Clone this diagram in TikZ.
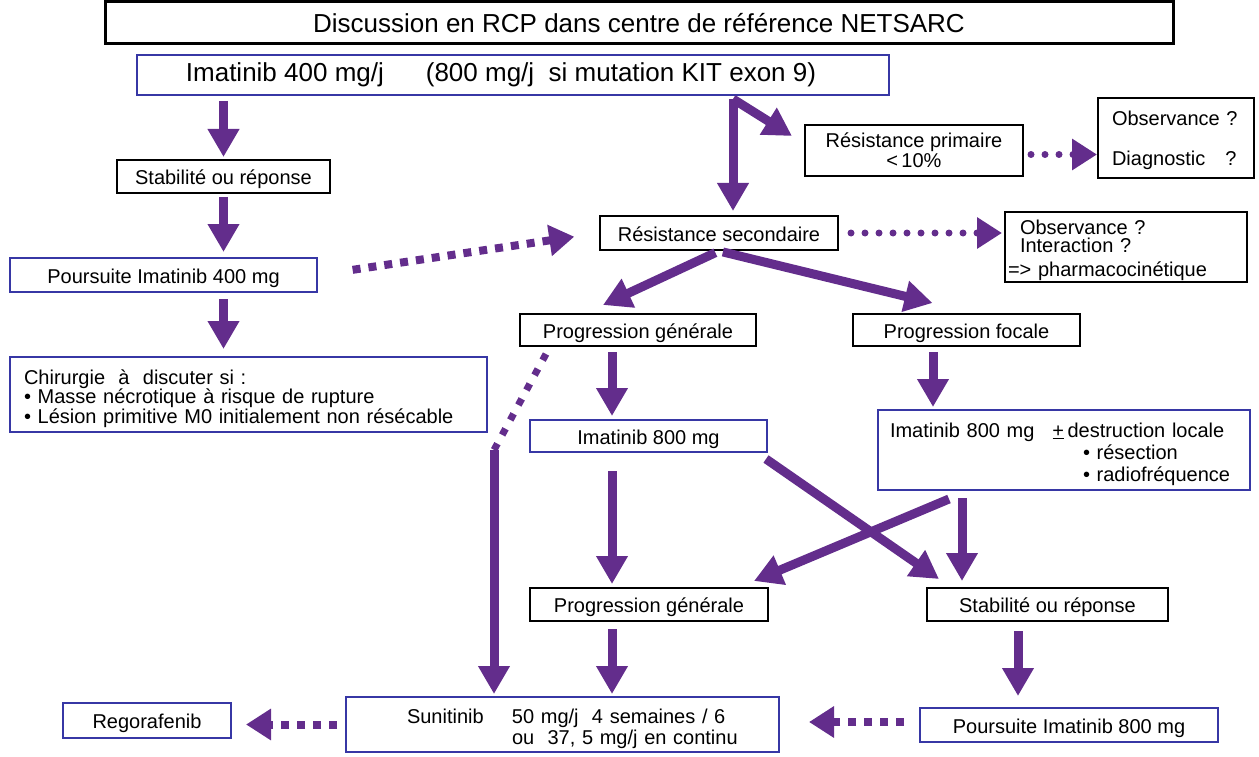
\documentclass[tikz,border=0pt]{standalone}
\usepackage{fontspec}
\setmainfont{Liberation Sans}
\usetikzlibrary{arrows.meta,calc}
\definecolor{arrowpurple}{RGB}{99,45,140}
\definecolor{boxblue}{RGB}{55,55,165}
\begin{document}
\begin{tikzpicture}[x=1pt,y=-1pt,
 box/.style={draw=black, line width=2pt, inner sep=0pt, font=\fontsize{20}{24}\selectfont},
 bbox/.style={box, draw=boxblue},
 one/.style={text height=16pt, text depth=0pt},
 arr/.style={draw=arrowpurple, line width=9pt, -{Triangle[length=28pt,width=30pt]}},
 rdots/.style={draw=arrowpurple, line width=7pt, line cap=round, dash pattern=on 0pt off 14pt, -{Triangle[length=25pt,width=30pt]}},
 sdots/.style={draw=arrowpurple, line width=8pt, dash pattern=on 8pt off 8pt, -{Triangle[length=25pt,width=30pt]}},
]
\useasboundingbox (0,0) rectangle (1259,757);

% nodes
\node[box, line width=3pt, minimum width=1068pt, minimum height=42pt, font=\fontsize{26}{30}\selectfont] (title) at (639,23) {Discussion en RCP dans centre de référence NETSARC};
\node[bbox, minimum width=752pt, minimum height=40pt, font=\fontsize{26}{30}\selectfont] (im400) at (513,75) {Imatinib 400 mg/j\hspace{42pt}(800 mg/j\ \ si mutation KIT exon 9)\rule{24pt}{0pt}};
\node[box, one, minimum width=213pt, minimum height=33pt] (st1) at (223.5,176.5) {Stabilité ou réponse};
\node[bbox, one, minimum width=307pt, minimum height=34pt] (p400) at (163.5,275) {Poursuite Imatinib 400 mg};
\node[bbox, text width=449pt, inner xsep=14pt, minimum height=75pt, align=left, font=\fontsize{20}{19.5}\selectfont] (chir) at (248.5,394.5) {\rule{0pt}{23pt}Chirurgie\ \ à\ \ discuter si :\\• Masse nécrotique à risque de rupture\\• Lésion primitive M0 initialement non résécable};
\node[box, minimum width=218pt, minimum height=51pt, align=center, font=\fontsize{20}{20}\selectfont] (rp) at (914,150.5) {Résistance primaire\\<\,10\%};
\node[box, text width=128pt, inner xsep=14pt, minimum height=80pt, align=left] (obs1) at (1176,138) {\rule{0pt}{19pt}Observance ?\\[16pt]Diagnostic\ \ \ ?};
\node[box, one, minimum width=238pt, minimum height=34pt] (rs) at (719,233) {Résistance secondaire};
\node[box, text width=236pt, inner xsep=3pt, minimum height=70pt, align=left, font=\fontsize{20}{18}\selectfont] (obs2) at (1126,247) {\rule{0pt}{21pt}\hspace*{12pt}Observance ?\\\hspace*{12pt}Interaction ?\\[6pt]=> pharmacocinétique};
\node[box, one, minimum width=236pt, minimum height=32pt] (pg1) at (638,330) {Progression générale};
\node[box, one, minimum width=227pt, minimum height=32pt] (pf) at (966.5,330) {Progression focale};
\node[bbox, one, minimum width=237pt, minimum height=32pt] (im800) at (648.5,436) {Imatinib 800 mg};
\node[bbox, text width=348pt, inner xsep=12pt, minimum height=80pt, align=left, font=\fontsize{20}{22}\selectfont] (im800l) at (1064,450) {\rule{0pt}{22.5pt}Imatinib 800 mg\hspace{18pt}\underline{+}\,destruction locale\\\hspace*{193pt}• résection\\\hspace*{193pt}• radiofréquence};
\node[box, one, minimum width=238pt, minimum height=33pt] (pg2) at (649,604.5) {Progression générale};
\node[box, one, minimum width=241pt, minimum height=33pt] (sr2) at (1047.5,604.5) {Stabilité ou réponse};
\node[bbox, one, minimum width=168pt, minimum height=35pt] (rego) at (147,720.5) {Regorafenib};
\node[bbox, text width=433pt, inner xsep=0pt, minimum height=55pt, align=left, font=\fontsize{20}{21}\selectfont] (suni) at (562.5,724.5) {\rule{0pt}{22.5pt}\hspace*{61pt}\makebox[105pt][l]{Sunitinib}50 mg/j\ \ 4 semaines / 6\\\hspace*{166pt}ou\ \ 37, 5 mg/j en continu};
\node[bbox, one, minimum width=298pt, minimum height=34pt] (p800) at (1069,725) {Poursuite Imatinib 800 mg};

% helper coordinates
\coordinate (colA) at (612,0);
\coordinate (colB) at (933,0);
\coordinate (colC) at (962,0);
\coordinate (colD) at (1018,0);
\coordinate (fork) at (733,99);
\coordinate (bend) at (494,450);

% connectors
\draw[arr, shorten <=5pt, shorten >=2pt] (st1.north |- im400.south) -- (st1.north);
\draw[arr, shorten <=3pt, shorten >=5pt] (st1.south) -- (st1.south |- p400.north);
\draw[arr, shorten <=6pt, shorten >=7pt] (st1.south |- p400.south) -- (st1.south |- chir.north);
\draw[arr, shorten >=4pt] (fork) -- (fork |- rs.north);
\draw[arr] (fork) -- ($(rp.north west)+(-12,12)$);
\draw[rdots, shorten <=7pt] ([yshift=-4pt]rp.east) -- ([yshift=-4pt]rp.east -| obs1.west);
\draw[rdots, shorten <=12pt, shorten >=2pt] (rs.east) -- (rs.east -| obs2.west);
\draw[sdots, shorten <=35pt, shorten >=25pt] (p400.east) -- (rs.west);
\draw[arr, shorten <=4pt] (rs.south) -- ($(pg1.north)+(-35,-8)$);
\draw[arr, shorten <=4pt] (rs.south) -- ($(pf.north)+(-34,-10)$);
\draw[arr, shorten <=5pt, shorten >=3pt] (colA |- pg1.south) -- (colA |- im800.north);
\draw[arr, shorten <=5pt, shorten >=2pt] (colB |- pf.south) -- (colB |- im800l.north);
\draw[arr, shorten <=18pt, shorten >=3pt] (colA |- im800.south) -- (colA |- pg2.north);
\draw[arr] ($(im800.south east)+(-2,6)$) -- ($(sr2.north west)+(13,-8)$);
\draw[arr] ($(im800l.south west)+(72,8)$) -- ($(pg2.north east)+(-15,-6)$);
\draw[arr, shorten <=7pt, shorten >=6pt] (colC |- im800l.south) -- (colC |- sr2.north);
\draw[arr, shorten <=7pt, shorten >=2pt] (colA |- pg2.south) -- (colA |- suni.north);
\draw[arr, shorten <=9pt, shorten >=11pt] (colD |- sr2.south) -- (colD |- p800.north);
\draw[sdots, shorten <=15pt, shorten >=29pt] ([yshift=3pt]p800.west) -- ([yshift=3pt]p800.west -| suni.east);
\draw[sdots, shorten <=8pt, shorten >=14pt] (suni.west) -- (suni.west -| rego.east);
\draw[sdots, line width=7pt, dash pattern=on 7pt off 10pt, -] ($(pg1.south west)+(27,7)$) -- (bend);
\draw[arr, shorten >=2pt] (bend) -- (bend |- suni.north);
\end{tikzpicture}
\end{document}
